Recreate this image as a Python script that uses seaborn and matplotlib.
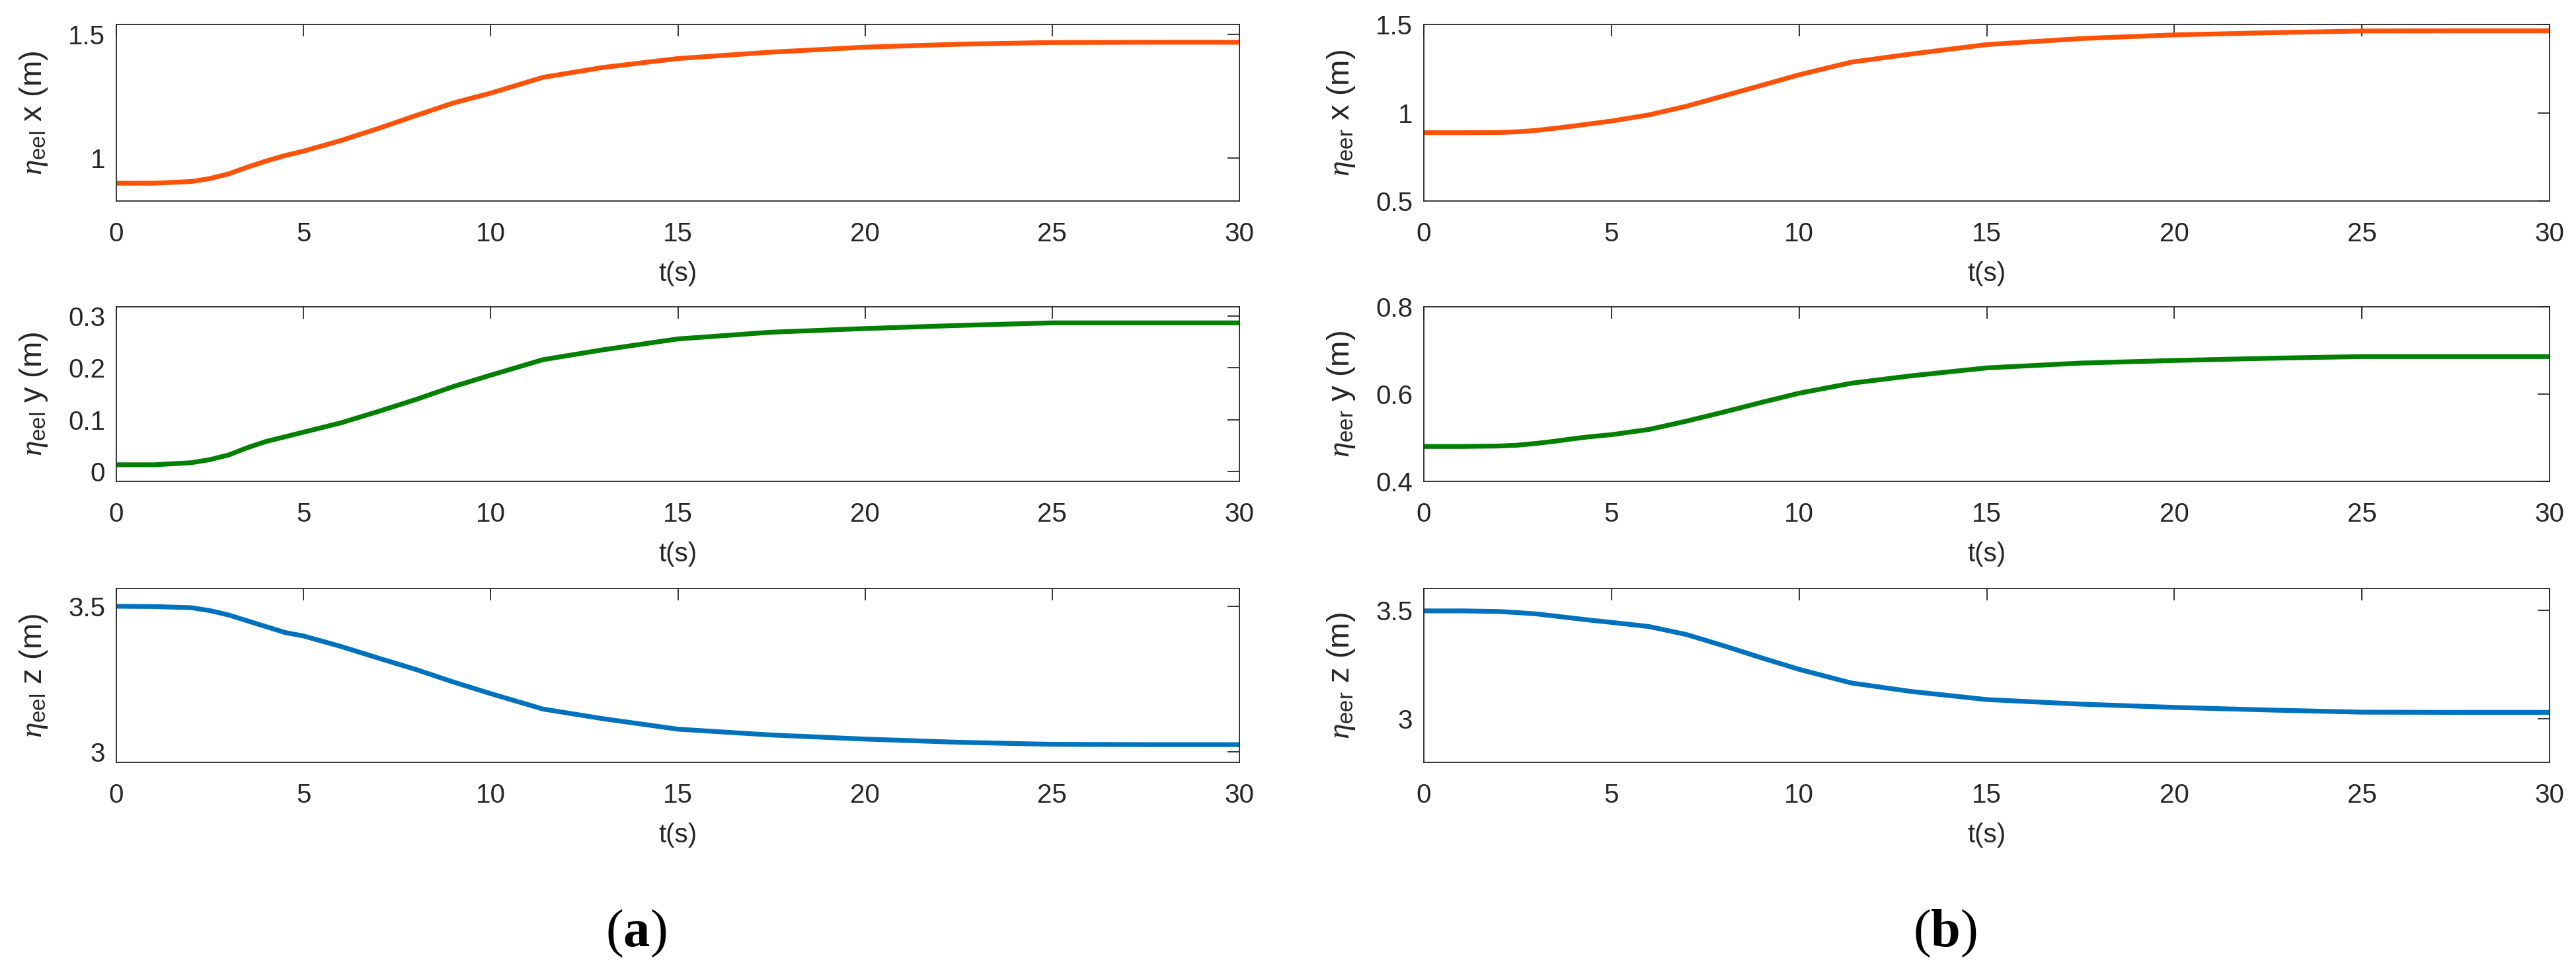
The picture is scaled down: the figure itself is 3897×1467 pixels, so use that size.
import matplotlib
matplotlib.use('Agg')
import matplotlib.pyplot as plt
import seaborn as sns
from matplotlib.ticker import FuncFormatter

# ---- data ----
t_s = [0, 1, 2, 2.5, 3, 3.5, 4, 4.5, 5, 6, 7, 8, 9, 10, 11.4, 13, 15, 17.5, 20, 22.5, 25, 27.5, 30]

eel_x = [0.897, 0.897, 0.904, 0.916, 0.935, 0.962, 0.987, 1.009, 1.027, 1.070, 1.119, 1.171,
         1.222, 1.262, 1.326, 1.366, 1.402, 1.428, 1.448, 1.460, 1.467, 1.468, 1.468]
eel_y = [0.013, 0.013, 0.017, 0.023, 0.032, 0.046, 0.058, 0.067, 0.076, 0.094, 0.116, 0.139,
         0.164, 0.186, 0.216, 0.235, 0.256, 0.269, 0.276, 0.282, 0.287, 0.287, 0.287]
eel_z = [3.500, 3.499, 3.495, 3.485, 3.470, 3.450, 3.430, 3.410, 3.398, 3.362, 3.322, 3.283,
         3.240, 3.200, 3.147, 3.114, 3.078, 3.058, 3.044, 3.033, 3.026, 3.025, 3.025]

eer_x = [0.887, 0.887, 0.888, 0.892, 0.900, 0.912, 0.925, 0.939, 0.953, 0.988, 1.037, 1.096,
         1.155, 1.215, 1.287, 1.333, 1.386, 1.420, 1.441, 1.453, 1.463, 1.464, 1.464]
eer_y = [0.480, 0.480, 0.481, 0.483, 0.487, 0.492, 0.498, 0.503, 0.507, 0.519, 0.538, 0.559,
         0.581, 0.602, 0.625, 0.642, 0.660, 0.671, 0.677, 0.682, 0.686, 0.686, 0.686]
eer_z = [3.497, 3.497, 3.494, 3.489, 3.483, 3.473, 3.463, 3.453, 3.444, 3.425, 3.388, 3.336,
         3.281, 3.228, 3.165, 3.126, 3.089, 3.068, 3.053, 3.041, 3.031, 3.030, 3.030]

x_ticks = [0, 5, 10, 15, 20, 25, 30]
y_ticks_left = [[1, 1.5], [0, 0.1, 0.2, 0.3], [3, 3.5]]
y_ticks_right = [[0.5, 1, 1.5], [0.4, 0.6, 0.8], [3, 3.5]]
y_labels_left = [r'$\eta_{\mathrm{eel}}$ x (m)', r'$\eta_{\mathrm{eel}}$ y (m)', r'$\eta_{\mathrm{eel}}$ z (m)']
y_labels_right = [r'$\eta_{\mathrm{eer}}$ x (m)', r'$\eta_{\mathrm{eer}}$ y (m)', r'$\eta_{\mathrm{eer}}$ z (m)']
x_label = 't(s)'
panel_labels = ['a', 'b']

# ---- styling ----
sns.set_style('white')
plt.rcParams.update({
    'font.family': ['Liberation Sans', 'DejaVu Sans'],
    'mathtext.fontset': 'custom',
    'mathtext.rm': 'Liberation Sans',
    'mathtext.it': 'Liberation Serif:italic',
    'mathtext.bf': 'Liberation Serif:bold',
})

W, H = 3897, 1467
fig = plt.figure(figsize=(W / 100, H / 100), dpi=100)

colors = ['#FF5208', '#007F00', '#0072BD']
dark = '#262626'

col_left = [176 / W, 2154 / W]
col_width = [1699 / W, 1703 / W]
row_top = [37, 464, 890]
row_bot = [304, 728, 1153]

ylims_left = [(0.825, 1.54), (-0.019, 0.318), (2.964, 3.561)]
ylims_right = [(0.5, 1.5), (0.4, 0.8), (2.8, 3.6)]

series = [[eel_x, eel_y, eel_z], [eer_x, eer_y, eer_z]]
yticks_all = [y_ticks_left, y_ticks_right]
ylims_all = [ylims_left, ylims_right]
ylabels_all = [y_labels_left, y_labels_right]

fmt = FuncFormatter(lambda v, p: f'{v:g}')

for c in range(2):
    for r in range(3):
        b = 1 - row_bot[r] / H
        h = (row_bot[r] - row_top[r]) / H
        ax = fig.add_axes([col_left[c], b, col_width[c], h])
        sns.lineplot(x=t_s, y=series[c][r], ax=ax, color=colors[r], linewidth=5.2,
                     legend=False)
        ax.set_xlim(0, 30)
        ax.set_ylim(*ylims_all[c][r])
        ax.set_xticks(x_ticks)
        ax.set_yticks(yticks_all[c][r])
        ax.xaxis.set_major_formatter(fmt)
        ax.yaxis.set_major_formatter(fmt)
        ax.tick_params(axis='both', direction='in', length=13, width=1.3,
                       top=True, right=True, labelsize=29, colors=dark)
        ax.tick_params(axis='x', pad=22)
        ax.tick_params(axis='y', pad=12)
        for s in ax.spines.values():
            s.set_visible(True)
            s.set_linewidth(1.3)
            s.set_color(dark)
        ax.set_xlabel(x_label, fontsize=29, color=dark, labelpad=16)
        ax.set_ylabel(ylabels_all[c][r], fontsize=34, color=dark, va='center')
        ax.yaxis.set_label_coords(-125 / 1700, 0.5)
        ax.grid(False)

fig.text(962 / W, 1 - 1412 / H, r'($\mathbf{' + panel_labels[0] + r'}$)', ha='center',
         va='center', fontsize=58, family='Liberation Serif', color='black')
fig.text(2942 / W, 1 - 1412 / H, r'($\mathbf{' + panel_labels[1] + r'}$)', ha='center',
         va='center', fontsize=58, family='Liberation Serif', color='black')

fig.savefig('out.png', dpi=100, facecolor='white')
